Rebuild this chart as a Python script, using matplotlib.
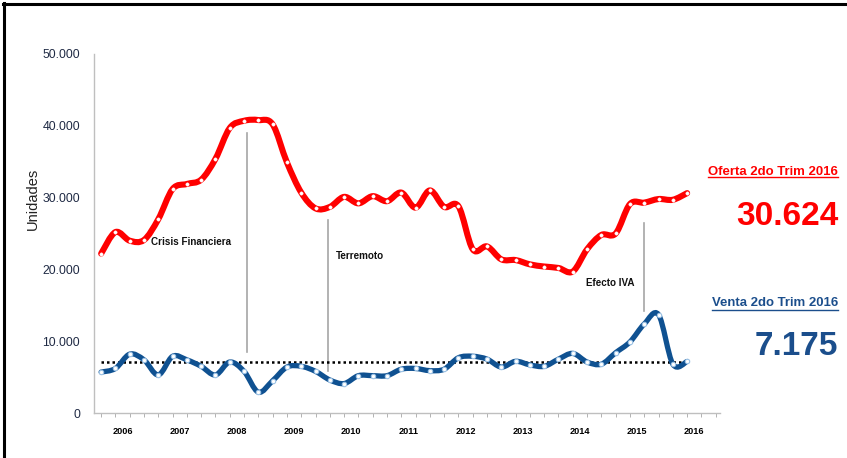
import numpy as np
import matplotlib
matplotlib.use('Agg')
import matplotlib.pyplot as plt
from matplotlib import font_manager
from matplotlib.path import Path
from matplotlib.patches import PathPatch
from matplotlib.lines import Line2D

instaladas = {f.name for f in font_manager.fontManager.ttflist}
NARROW = 'Liberation Sans Narrow' in instaladas
FUENTE = 'Liberation Sans Narrow' if NARROW else 'Liberation Sans'
esc = 1.0 if NARROW else 0.86  # si no hay fuente estrecha, achicar el texto
plt.rcParams['font.family'] = ['Liberation Sans', 'DejaVu Sans']

# datos trimestrales 2006 T1 .. 2016 T2
anios = ['2006', '2007', '2008', '2009', '2010', '2011',
         '2012', '2013', '2014', '2015', '2016']
oferta = [22200, 25200, 24000, 24100, 27000, 31200, 31900, 32500, 35400, 39700,
          40700, 40800, 40200, 34900, 30700, 28500, 28700, 30100, 29200, 30200,
          29500, 30700, 28600, 31000, 28700, 28800, 22800, 23200, 21400, 21300,
          20700, 20400, 20200, 19700, 22800, 24800, 25000, 29100, 29300, 29800,
          29700, 30624]
venta = [5700, 6200, 8200, 7400, 5300, 7900, 7400, 6500, 5300, 7100,
         5800, 2900, 4500, 6400, 6500, 5800, 4600, 4100, 5200, 5200,
         5200, 6100, 6200, 5900, 6100, 7700, 7900, 7500, 6400, 7200,
         6700, 6500, 7500, 8300, 7100, 6800, 8400, 9900, 12400, 13700,
         6800, 7175]
promedio_venta = 7150

eventos = ['Crisis Financiera', 'Terremoto', 'Efecto IVA']
evento_trim = [10.2, 15.9, 38.0]
evento_linea = [(8500, 39000), (5900, 26900), (14200, 26500)]
evento_texto = [(3.5, 23800), (16.4, 21900), (33.9, 18100)]

ROJO = '#FF0000'
AZUL = '#0F5191'
AZUL_TXT = '#1B4E8C'


def curva_suave(x, y):
    # curva tipo "linea suavizada" de Excel (Catmull-Rom en Bezier)
    pts = np.column_stack([x, y]).astype(float)
    n = len(pts)
    verts = [pts[0]]
    codes = [Path.MOVETO]
    for i in range(n - 1):
        p0 = pts[max(i - 1, 0)]
        p1 = pts[i]
        p2 = pts[i + 1]
        p3 = pts[min(i + 2, n - 1)]
        verts += [p1 + (p2 - p0) / 6, p2 - (p3 - p1) / 6, p2]
        codes += [Path.CURVE4] * 3
    return Path(verts, codes)


fig = plt.figure(figsize=(8.47, 4.58), dpi=100)
ax = fig.add_axes([94 / 847, 1 - 413 / 458, (720 - 94) / 847, (413 - 54) / 458])

t = np.arange(len(oferta))

# lineas de eventos
for xe, (y0, y1) in zip(evento_trim, evento_linea):
    ax.plot([xe, xe], [y0, y1], color='#A6A6A6', lw=1.2, zorder=1)
for nombre, (xt, yt) in zip(eventos, evento_texto):
    ax.text(xt, yt, nombre, fontsize=8.3 * esc, fontweight='bold', family=FUENTE,
            ha='left', va='center', color='#111111')

# promedio ventas
ax.plot([t[0], t[-1]], [promedio_venta, promedio_venta], color='black',
        ls=(0, (1, 1.2)), lw=1.8, zorder=2)

ax.add_patch(PathPatch(curva_suave(t, oferta), fill=False, edgecolor=ROJO,
                       lw=4.4, capstyle='round', joinstyle='round', zorder=3))
ax.plot(t, oferta, ls='none', marker='o', ms=2.4, mfc='white', mec='white',
        mew=0.3, zorder=4)

ax.add_patch(PathPatch(curva_suave(t, venta), fill=False, edgecolor=AZUL,
                       lw=3.8, capstyle='round', joinstyle='round', zorder=3))
ax.plot(t, venta, ls='none', marker='o', ms=3.2, mfc='white', mec='#9DC3E6',
        mew=0.8, zorder=4)

ax.set_xlim(-0.5, 43.3)
ax.set_ylim(0, 50000)
ax.set_yticks(np.arange(0, 50001, 10000))
ax.set_yticklabels(['0' if v == 0 else f'{v // 1000}.000' for v in range(0, 50001, 10000)],
                   family=FUENTE, fontsize=10.3 * esc, color='#1F2A44')
ax.set_xticks(np.arange(len(anios)) * 4 + 1.5)
ax.set_xticklabels(anios, family=FUENTE, fontsize=7.6 * esc, fontweight='bold')
ax.set_xticks(np.arange(0, 44), minor=True)
ax.tick_params(axis='x', which='major', length=0, pad=10)
ax.tick_params(axis='x', which='minor', length=3, color='#A6A6A6', direction='out')
ax.tick_params(axis='y', length=0, pad=10)
for s in ['top', 'right']:
    ax.spines[s].set_visible(False)
for s in ['left', 'bottom']:
    ax.spines[s].set_color('#BFBFBF')
    ax.spines[s].set_linewidth(1.0)

fig.text(33 / 847, 1 - 199 / 458, 'Unidades', rotation=90, fontsize=10.5,
         ha='center', va='center', color='#222222')

# cuadro lateral
x_der = 838 / 847
t1 = fig.text(x_der, 1 - 175 / 458, 'Oferta 2do Trim 2016', ha='right', va='baseline',
              family=FUENTE, fontsize=11 * esc, fontweight='bold', color=ROJO)
fig.text(x_der, 1 - 225 / 458, '30.624', ha='right', va='baseline',
         fontsize=24, fontweight='bold', color=ROJO)
t2 = fig.text(x_der, 1 - 306.5 / 458, 'Venta 2do Trim 2016', ha='right', va='baseline',
              family=FUENTE, fontsize=11 * esc, fontweight='bold', color=AZUL_TXT)
fig.text(x_der, 1 - 355 / 458, '7.175', ha='right', va='baseline',
         fontsize=24, fontweight='bold', color=AZUL_TXT)

fig.canvas.draw()
r = fig.canvas.get_renderer()
for txt, yline, col in [(t1, 177.5, ROJO), (t2, 309.5, AZUL_TXT)]:
    bb = txt.get_window_extent(r)
    fig.add_artist(Line2D([bb.x0 / 847, bb.x1 / 847], [1 - yline / 458] * 2,
                          transform=fig.transFigure, color=col, lw=1.0))

# marco
fig.add_artist(Line2D([3 / 847, 1], [1 - 4 / 458] * 2, transform=fig.transFigure,
                      color='black', lw=2.2))
fig.add_artist(Line2D([4 / 847] * 2, [0, 1 - 3 / 458], transform=fig.transFigure,
                      color='black', lw=2.2))

fig.savefig('out.png', dpi=100)
